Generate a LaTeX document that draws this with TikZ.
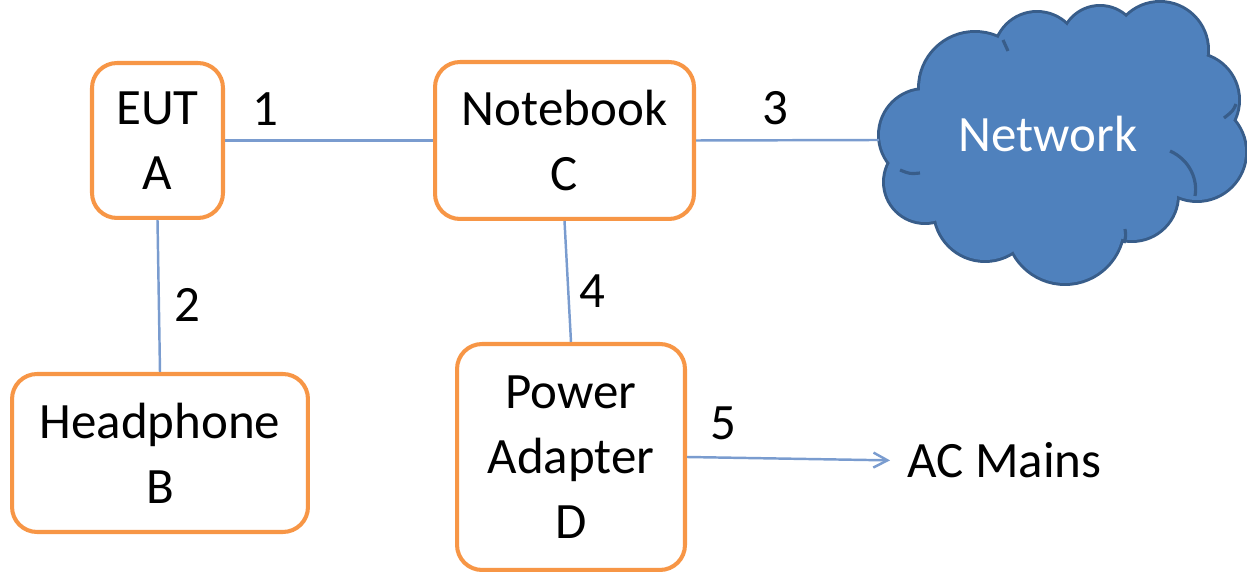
\documentclass[tikz,border=0pt]{standalone}
\usepackage{fontspec}
\setmainfont{Carlito}
\usetikzlibrary{arrows.meta}
\definecolor{boxorange}{HTML}{F79646}
\definecolor{linkblue}{HTML}{7A9CCF}
\definecolor{cloudfill}{HTML}{4F81BD}
\definecolor{cloudedge}{HTML}{385D8A}
\begin{document}
\begin{tikzpicture}[x=0.02cm,y=-0.02cm,
  bigtext/.style={font=\fontsize{29}{37}\selectfont},
  unit/.style={bigtext, draw=boxorange, line width=2.3pt, rounded corners=0.5cm,
    fill=white, align=center, inner sep=0pt},
  link/.style={draw=linkblue, line width=1.4pt},
  lbl/.style={bigtext, inner sep=0pt, anchor=base},
  crease/.style={draw=cloudedge, line width=1.8pt}]
\useasboundingbox (0,0) rectangle (1247,573);

% cloud: outlined circles, then refilled so only the outer rim stays
\foreach \cx/\cy/\r in {925/135/45, 975/88/55, 1037/55/42, 1100/45/38, 1160/50/47,
    1192/100/46, 1197/152/48, 1132/195/45, 1065/225/58, 985/210/50, 925/182/40}
  \draw[draw=cloudedge, line width=3.4pt, fill=cloudfill] (\cx,\cy) circle[radius=\r*0.02cm];
\foreach \cx/\cy/\r in {925/135/45, 975/88/55, 1037/55/42, 1100/45/38, 1160/50/47,
    1192/100/46, 1197/152/48, 1132/195/45, 1065/225/58, 985/210/50, 925/182/40}
  \fill[cloudfill] (\cx,\cy) circle[radius=\r*0.02cm];
\fill[cloudfill] (1060,140) ellipse[x radius=2.8cm, y radius=1.8cm];
% inner folds of the cloud
\draw[crease] (1170,151) .. controls (1190,160) and (1198,180) .. (1195,196);
\draw[crease] (1236,104) .. controls (1233,111) .. (1224,118);
\draw[crease] (920,173) .. controls (910,174) .. (900,170);
\draw[crease] (1003,40) .. controls (1006,45) .. (1008,51);
\draw[crease] (1125,229) .. controls (1126,236) .. (1124,243);
\node[bigtext, text=white, anchor=base, inner sep=0pt] (net) at (1048,152) {Network};
\coordinate (netw) at (879,140);

% equipment boxes
\node[unit, minimum width=2.62cm, minimum height=3.1cm]  (A) at (157.5,140.5) {EUT\\A};
\node[unit, minimum width=5.18cm, minimum height=3.14cm] (C) at (564.5,140.5) {Notebook\\C};
\node[unit, minimum width=5.92cm, minimum height=3.16cm] (B) at (160,453) {Headphone\\B};
\node[unit, minimum width=4.56cm, minimum height=4.52cm] (D) at (571,457) {Power\\Adapter\\D};
\node[bigtext, anchor=base west, inner sep=0pt] (ac) at (907,478) {AC Mains};

% cables
\draw[link] (A.east) -- (C.west);
\draw[link] (A.south) -- (B.north);
\draw[link] (C.east) -- (netw);
\draw[link] (C.south) -- (D.north);
\draw[link, -{Straight Barb[length=0.28cm, width=0.3cm]}, shorten >=0.34cm] (D.east) -- (ac.west);

% cable numbers
\node[lbl] (n1) at (265,126) {1};
\node[lbl] (n2) at (187,322) {2};
\node[lbl] (n3) at (775,125) {3};
\node[lbl] (n4) at (592,308) {4};
\node[lbl] (n5) at (723,440) {5};
\end{tikzpicture}
\end{document}
